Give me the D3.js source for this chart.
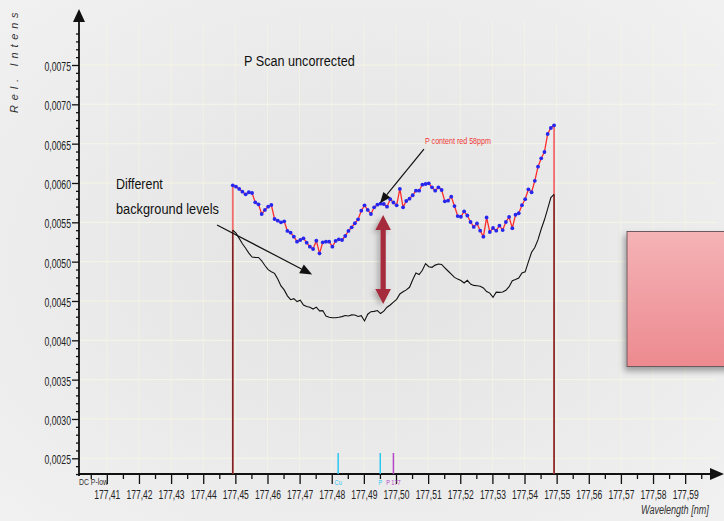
<!DOCTYPE html>
<html>
<head>
<meta charset="utf-8">
<script src="https://cdn.jsdelivr.net/npm/d3@7"></script>
<style>
  html, body { margin: 0; padding: 0; background: #efefef; }
  svg { display: block; }
  text { font-family: "Liberation Sans", Arial, sans-serif; }
</style>
</head>
<body>
<svg id="chart" width="724" height="521"></svg>
<script>
// ---- scan data: relative intensity vs wavelength (nm) ----
const scanStart = 177.4492;   // first wavelength of the scan
const scanStep = 0.001;       // wavelength step of the scan

// sample with 58 ppm P (red, with measured points)
const redSample = [
  0.005970, 0.005953, 0.005924, 0.005889, 0.005856, 0.005882, 0.005873, 0.005754, 0.005729, 0.005606,
  0.005657, 0.005699, 0.005720, 0.005542, 0.005521, 0.005500, 0.005513, 0.005390, 0.005368, 0.005317,
  0.005254, 0.005275, 0.005297, 0.005241, 0.005190, 0.005161, 0.005266, 0.005106, 0.005246, 0.005254,
  0.005254, 0.005190, 0.005263, 0.005284, 0.005275, 0.005326, 0.005390, 0.005437, 0.005488, 0.005538,
  0.005648, 0.005716, 0.005657, 0.005606, 0.005691, 0.005724, 0.005737, 0.005733, 0.005699, 0.005793,
  0.005752, 0.005716, 0.005924, 0.005691, 0.005771, 0.005800, 0.005844, 0.005902, 0.005902, 0.005978,
  0.005987, 0.005996, 0.005945, 0.005902, 0.005945, 0.005911, 0.005767, 0.005775, 0.005826, 0.005707,
  0.005580, 0.005571, 0.005638, 0.005587, 0.005504, 0.005441, 0.005485, 0.005394, 0.005317, 0.005561,
  0.005377, 0.005428, 0.005394, 0.005457, 0.005402, 0.005504, 0.005568, 0.005425, 0.005596, 0.005615,
  0.005718, 0.005794, 0.005920, 0.005882, 0.006028, 0.006207, 0.006314, 0.006394, 0.006623, 0.006699,
  0.006733
];

// low-P reference sample (black)
const baseSample = [
  0.005402, 0.005363, 0.005296, 0.005228, 0.005171, 0.005109, 0.005059, 0.005054, 0.005053, 0.005011,
  0.004951, 0.004898, 0.004872, 0.004851, 0.004779, 0.004692, 0.004641, 0.004565, 0.004516, 0.004529,
  0.004492, 0.004510, 0.004449, 0.004429, 0.004420, 0.004397, 0.004422, 0.004375, 0.004378, 0.004308,
  0.004294, 0.004286, 0.004287, 0.004293, 0.004301, 0.004315, 0.004310, 0.004323, 0.004322, 0.004303,
  0.004314, 0.004246, 0.004332, 0.004364, 0.004368, 0.004379, 0.004340, 0.004370, 0.004420, 0.004449,
  0.004486, 0.004521, 0.004589, 0.004617, 0.004641, 0.004674, 0.004769, 0.004856, 0.004837, 0.004891,
  0.004975, 0.004935, 0.004928, 0.004956, 0.004970, 0.004964, 0.004922, 0.004881, 0.004840, 0.004800,
  0.004778, 0.004760, 0.004729, 0.004763, 0.004715, 0.004698, 0.004694, 0.004687, 0.004665, 0.004619,
  0.004600, 0.004546, 0.004612, 0.004609, 0.004615, 0.004636, 0.004682, 0.004758, 0.004772, 0.004791,
  0.004857, 0.004870, 0.004997, 0.005119, 0.005180, 0.005280, 0.005415, 0.005532, 0.005671, 0.005814,
  0.005854
];

// axis ticks
const yTicks = [0.0025, 0.0030, 0.0035, 0.0040, 0.0045, 0.0050, 0.0055, 0.0060, 0.0065, 0.0070, 0.0075];
const xTicks = [177.41, 177.42, 177.43, 177.44, 177.45, 177.46, 177.47, 177.48, 177.49, 177.50,
                177.51, 177.52, 177.53, 177.54, 177.55, 177.56, 177.57, 177.58, 177.59];

// element line markers on the wavelength axis
const lineNames = ["Cu", "P", "P 177"];
const lineWaves = [177.4820, 177.4951, 177.4992];

// ---- layout ----
const W = 724, H = 521;
const axisX = 79;      // y-axis position
const axisY = 474;     // x-axis position

const svg = d3.select("#chart");
const defs = svg.append("defs");

const x = d3.scaleLinear().domain([177.40, 177.60]).range([74.7, 717.3]);
const y = d3.scaleLinear().domain([0.0025, 0.0075]).range([458.3, 65]);

const loc = d3.formatLocale({ decimal: ",", thousands: ".", grouping: [3], currency: ["", ""] });
const yFmt = loc.format(".4f");
const xFmt = loc.format(".2f");

// narrow text: the font is squeezed horizontally by sx
function narrowText(px, py, str, size, sx, opts = {}) {
  const t = svg.append("text")
    .attr("transform", `translate(${px},${py}) scale(${sx},1)`)
    .attr("font-size", size)
    .attr("fill", opts.fill || "#111")
    .attr("text-anchor", opts.anchor || "start")
    .text(str);
  if (opts.italic) t.attr("font-style", "italic");
  return t;
}

// background
const bg = defs.append("radialGradient").attr("id", "bgGrad")
  .attr("cx", "50%").attr("cy", "50%").attr("r", "75%");
bg.append("stop").attr("offset", "0%").attr("stop-color", "#e2e2e2");
bg.append("stop").attr("offset", "100%").attr("stop-color", "#f2f2f2");
svg.append("rect").attr("width", W).attr("height", H).attr("fill", "url(#bgGrad)");

// shadows and gradients
const sh = defs.append("filter").attr("id", "boxShadow")
  .attr("x", "-20%").attr("y", "-20%").attr("width", "150%").attr("height", "150%");
sh.append("feDropShadow").attr("dx", -2).attr("dy", 4).attr("stdDeviation", 3)
  .attr("flood-color", "#000").attr("flood-opacity", 0.35);
const sh2 = defs.append("filter").attr("id", "arrowShadow")
  .attr("x", "-100%").attr("y", "-20%").attr("width", "300%").attr("height", "150%");
sh2.append("feDropShadow").attr("dx", -3).attr("dy", 2).attr("stdDeviation", 2.5)
  .attr("flood-color", "#000").attr("flood-opacity", 0.25);
const boxGrad = defs.append("linearGradient").attr("id", "boxGrad")
  .attr("x1", 0).attr("y1", 0).attr("x2", 0).attr("y2", 1);
boxGrad.append("stop").attr("offset", "0%").attr("stop-color", "#f5b3b6");
boxGrad.append("stop").attr("offset", "100%").attr("stop-color", "#ec8a8f");

// faint grid
const grid = svg.append("g").attr("stroke", "#f5f5e6").attr("stroke-width", 1);
grid.selectAll("line.h").data(yTicks).join("line")
  .attr("x1", axisX).attr("x2", 717).attr("y1", d => y(d)).attr("y2", d => y(d));
grid.selectAll("line.v").data(xTicks).join("line")
  .attr("x1", d => x(d)).attr("x2", d => x(d)).attr("y1", 22).attr("y2", axisY)
  .attr("stroke-opacity", 0.7);

// ---- y axis ----
const yMinor = d3.range(23, 80).map(k => k / 10000).filter(v => !yTicks.some(t => Math.abs(t - v) < 1e-9));
const gyMinor = svg.append("g").attr("transform", `translate(${axisX},0)`)
  .call(d3.axisLeft(y).tickValues(yMinor).tickSize(3).tickFormat(""));
gyMinor.select(".domain").remove();
const gy = svg.append("g").attr("transform", `translate(${axisX},0)`)
  .call(d3.axisLeft(y).tickValues(yTicks).tickSize(7).tickPadding(1).tickFormat(yFmt));
gy.select(".domain").remove();
const ySx = 0.67;
gy.selectAll("text").attr("font-size", 13).attr("fill", "#222").attr("dy", "0.42em")
  .attr("x", -8 / ySx).attr("transform", `scale(${ySx},1)`);

// ---- x axis ----
const xMinor = xTicks.map(t => t - 0.005).concat([177.595]);
const gxMinor = svg.append("g").attr("transform", `translate(0,${axisY})`)
  .call(d3.axisBottom(x).tickValues(xMinor).tickSize(5).tickFormat(""));
gxMinor.select(".domain").remove();
const gx = svg.append("g").attr("transform", `translate(0,${axisY})`)
  .call(d3.axisBottom(x).tickValues(xTicks).tickSize(10).tickPadding(6).tickFormat(xFmt));
gx.select(".domain").remove();
gx.selectAll("text").attr("font-size", 13).attr("fill", "#222")
  .attr("transform", "scale(0.655,1)");
svg.selectAll(".tick line").attr("stroke", "#111").attr("stroke-width", 1.3);

// axis lines with arrowheads
svg.append("line").attr("x1", axisX).attr("x2", axisX).attr("y1", axisY + 2).attr("y2", 20)
  .attr("stroke", "#111").attr("stroke-width", 1.8);
svg.append("path").attr("d", `M${axisX},9 L${axisX + 6},22 L${axisX - 6},22 Z`).attr("fill", "#111");
svg.append("line").attr("x1", axisX).attr("x2", 712).attr("y1", axisY).attr("y2", axisY)
  .attr("stroke", "#111").attr("stroke-width", 1.8);
svg.append("path").attr("d", `M724,${axisY} L710,${axisY - 6} L710,${axisY + 6} Z`).attr("fill", "#111");

// axis titles
svg.append("text").attr("transform", "translate(18,113) rotate(-90)")
  .attr("font-size", 11).attr("font-style", "italic").attr("fill", "#333")
  .attr("letter-spacing", 4.8)
  .text("Rel. Intens");
narrowText(641, 514, "Wavelength [nm]", 12, 0.755, { italic: true, fill: "#333" });
narrowText(79, 484.5, "DC P-low", 8.5, 0.81, { fill: "#333" });

// element line markers
const lineColors = ["#2cc6f2", "#2cc6f2", "#b645c8"];
lineWaves.forEach((w, i) => {
  svg.append("line").attr("x1", x(w)).attr("x2", x(w)).attr("y1", axisY - 21).attr("y2", axisY)
    .attr("stroke", lineColors[i]).attr("stroke-width", 1.5);
  narrowText(x(w), 484.5, lineNames[i], 8, 0.7, { anchor: "middle", fill: lineColors[i] });
});

// ---- spectra ----
const waves = redSample.map((_, i) => scanStart + i * scanStep);
const redPts = redSample.map((v, i) => [waves[i], v]);
const basePts = baseSample.map((v, i) => [waves[i], v]);
const line = d3.line().x(d => x(d[0])).y(d => y(d[1]));

// drops to the baseline at both scan limits
[0, redPts.length - 1].forEach(i => {
  svg.append("line").attr("x1", x(waves[i])).attr("x2", x(waves[i]))
    .attr("y1", y(redSample[i])).attr("y2", axisY)
    .attr("stroke", "#f26a6a").attr("stroke-width", 1.8);
  svg.append("line").attr("x1", x(waves[i])).attr("x2", x(waves[i]))
    .attr("y1", y(baseSample[i])).attr("y2", axisY)
    .attr("stroke", "#5e1515").attr("stroke-width", 1.2);
});

svg.append("path").datum(basePts).attr("d", line)
  .attr("fill", "none").attr("stroke", "#111").attr("stroke-width", 1.1);
svg.append("path").datum(redPts).attr("d", line)
  .attr("fill", "none").attr("stroke", "#ff2b2b").attr("stroke-width", 1.3);
svg.append("g").selectAll("circle").data(redPts).join("circle")
  .attr("cx", d => x(d[0])).attr("cy", d => y(d[1])).attr("r", 1.9)
  .attr("fill", "#2626ee");

// ---- annotations ----
function arrowLine(x1, y1, x2, y2, len, half) {
  const a = Math.atan2(y2 - y1, x2 - x1);
  const bx = x2 - len * Math.cos(a), by = y2 - len * Math.sin(a);
  svg.append("line").attr("x1", x1).attr("y1", y1).attr("x2", bx).attr("y2", by)
    .attr("stroke", "#111").attr("stroke-width", 1.2);
  const px = -Math.sin(a) * half, py = Math.cos(a) * half;
  svg.append("path")
    .attr("d", `M${x2},${y2} L${bx + px},${by + py} L${bx - px},${by - py} Z`)
    .attr("fill", "#111");
}

narrowText(244, 65.5, "P Scan uncorrected", 15, 0.843);
narrowText(116, 189, "Different", 15, 0.83);
narrowText(116, 213.5, "background levels", 15, 0.852);
arrowLine(x(177.4443), y(0.005466), x(177.4739), y(0.004837), 12, 5);

narrowText(425, 143.5, "P content red 58ppm", 9, 0.79, { fill: "#ef3535" });
arrowLine(x(177.5087), y(0.006432), x(177.4950), y(0.005742), 11, 4.5);

// double arrow marking the background offset
{
  const cx = x(177.4960), top = y(0.005593), bot = y(0.004462);
  const hw = 7.8, hl = 15, sw = 2.6;
  svg.append("path").attr("filter", "url(#arrowShadow)")
    .attr("d", `M${cx},${top} L${cx + hw},${top + hl} L${cx + sw},${top + hl} L${cx + sw},${bot - hl}
      L${cx + hw},${bot - hl} L${cx},${bot} L${cx - hw},${bot - hl} L${cx - sw},${bot - hl}
      L${cx - sw},${top + hl} L${cx - hw},${top + hl} Z`)
    .attr("fill", "#a52a3b");
}

// pink callout box
svg.append("rect").attr("x", 627).attr("y", 231.5).attr("width", 110).attr("height", 135)
  .attr("fill", "url(#boxGrad)").attr("stroke", "#6e5a5c").attr("stroke-width", 1)
  .attr("filter", "url(#boxShadow)");
</script>
</body>
</html>
